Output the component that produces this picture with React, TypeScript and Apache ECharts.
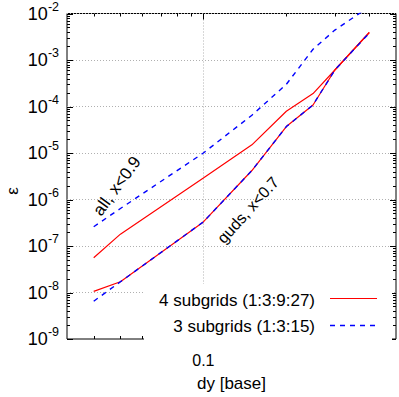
import React, { useEffect, useRef } from "react";
import * as echarts from "echarts";

// ---- data ----
const dy = [0.04, 0.05, 0.1, 0.15, 0.2, 0.25, 0.3, 0.4];
const sub4All = [5.6e-8, 1.8e-7, 2.9e-6, 1.5e-5, 7.9e-5, 1.9e-4, 6.1e-4, 3.9e-3];
const sub4Guds = [1.06e-8, 1.7e-8, 3.3e-7, 4.2e-6, 3.7e-5, 1.08e-4, 6.1e-4, 3.9e-3];
const sub3All = [2.6e-7, 6.4e-7, 1.0e-5, 6.5e-5, 3.0e-4, 1.7e-3, 4.4e-3, 1.4e-2];
const sub3Guds = [6.5e-9, 1.7e-8, 3.3e-7, 4.2e-6, 3.7e-5, 1.08e-4, 6.1e-4, 3.8e-3];

const seriesNames = ["4 subgrids (1:3:9:27)", "3 subgrids (1:3:15)"];
const annotations = ["all, x<0.9", "guds, x<0.7"];

const xTickLabels = [0.1];
const xMinorTicks = [0.04, 0.05, 0.06, 0.07, 0.08, 0.09, 0.2, 0.3, 0.4];
const yDecades = [-9, -8, -7, -6, -5, -4, -3, -2];
const yMinorMultipliers = [2, 3, 4, 5, 6, 7, 8, 9];

const X_MIN = 0.032;
const X_MAX = 0.5;
const Y_MIN = 1e-9;
const Y_MAX = 1e-2;

const FONT = '"Liberation Sans", Arial, Helvetica, sans-serif';
const RED = "#ff0000";
const BLUE = "#0000ff";

export default function App() {
  const ref = useRef<HTMLDivElement>(null);

  useEffect(() => {
    if (!ref.current) return;
    const chart = echarts.init(ref.current, undefined, { renderer: "svg" });

    const pairs = (ys: number[]) => dy.map((x, i) => [x, ys[i]]);

    const xTickData: number[][] = [];
    xTickLabels.forEach((v) => xTickData.push([v, Y_MIN, 6]));
    xMinorTicks.forEach((v) => xTickData.push([v, Y_MIN, 3]));

    const yTickData: number[][] = [];
    yDecades.forEach((d) => {
      yTickData.push([X_MIN, Math.pow(10, d), 6]);
      if (d < -2) {
        yMinorMultipliers.forEach((m) => yTickData.push([X_MIN, m * Math.pow(10, d), 3]));
      }
    });

    const tickStyle = { stroke: "#000", lineWidth: 1 };

    const textStyle = (text: string, size: number, align: string) => ({
      text,
      font: size + "px " + FONT,
      fill: "#000",
      align,
      verticalAlign: "middle",
      textAlign: align,
      textVerticalAlign: "middle",
    });

    const option: any = {
      animation: false,
      grid: {
        left: 67,
        top: 13,
        right: 2.5,
        bottom: 53.5,
        show: true,
        borderColor: "#000",
        borderWidth: 1,
        backgroundColor: "transparent",
      },
      xAxis: {
        type: "log",
        logBase: 10,
        min: X_MIN,
        max: X_MAX,
        axisLine: { show: false },
        axisTick: { show: false },
        axisLabel: {
          margin: 13,
          fontFamily: FONT,
          fontSize: 16,
          color: "#000",
          formatter: (v: number) =>
            xTickLabels.some((t) => Math.abs(t - v) < 1e-6) ? String(v) : "",
        },
        splitLine: {
          show: true,
          showMinLine: false,
          showMaxLine: false,
          lineStyle: { color: "#b0b0b0", width: 1, type: [1, 2] },
        },
        name: "dy [base]",
        nameLocation: "middle",
        nameGap: 36,
        nameTextStyle: { fontFamily: FONT, fontSize: 17, color: "#000" },
      },
      yAxis: {
        type: "log",
        logBase: 10,
        min: Y_MIN,
        max: Y_MAX,
        interval: 1,
        axisLine: { show: false },
        axisTick: { show: false },
        axisLabel: {
          margin: 8,
          color: "#000",
          formatter: (v: number) => {
            const e = Math.round(Math.log10(v));
            return "{b|10}{s|" + e + "}";
          },
          rich: {
            b: { fontFamily: FONT, fontSize: 18, color: "#000" },
            s: { fontFamily: FONT, fontSize: 12.5, color: "#000", padding: [0, 0, 14, 0] },
          },
        },
        splitLine: {
          show: true,
          showMinLine: false,
          showMaxLine: false,
          lineStyle: { color: "#b0b0b0", width: 1, type: [1, 2] },
        },
      },
      series: [
        {
          name: seriesNames[0],
          type: "line",
          data: pairs(sub4All),
          symbol: "none",
          lineStyle: { color: RED, width: 1.2 },
          z: 2,
        },
        {
          name: seriesNames[0],
          type: "line",
          data: pairs(sub4Guds),
          symbol: "none",
          lineStyle: { color: RED, width: 1.2 },
          z: 2,
        },
        {
          name: seriesNames[1],
          type: "line",
          data: pairs(sub3All),
          symbol: "none",
          lineStyle: { color: BLUE, width: 1.4, type: [5, 5] },
          z: 3,
        },
        {
          name: seriesNames[1],
          type: "line",
          data: pairs(sub3Guds),
          symbol: "none",
          lineStyle: { color: BLUE, width: 1.4, type: [5, 5] },
          z: 3,
        },
        {
          type: "custom",
          coordinateSystem: "cartesian2d",
          silent: true,
          clip: false,
          z: 10,
          encode: { x: 0, y: 1 },
          data: xTickData,
          renderItem: (params: any, api: any) => {
            const x = api.value(0);
            const len = api.value(2);
            const b = api.coord([x, Y_MIN]);
            const t = api.coord([x, Y_MAX]);
            const px = Math.round(b[0]) + 0.5;
            return {
              type: "group",
              children: [
                { type: "line", shape: { x1: px, y1: b[1], x2: px, y2: b[1] - len }, style: tickStyle },
                { type: "line", shape: { x1: px, y1: t[1], x2: px, y2: t[1] + len }, style: tickStyle },
              ],
            };
          },
        },
        {
          type: "custom",
          coordinateSystem: "cartesian2d",
          silent: true,
          clip: false,
          z: 10,
          encode: { x: 0, y: 1 },
          data: yTickData,
          renderItem: (params: any, api: any) => {
            const y = api.value(1);
            const len = api.value(2);
            const l = api.coord([X_MIN, y]);
            const r = api.coord([X_MAX, y]);
            const py = Math.round(l[1]) + 0.5;
            return {
              type: "group",
              children: [
                { type: "line", shape: { x1: l[0], y1: py, x2: l[0] + len, y2: py }, style: tickStyle },
                { type: "line", shape: { x1: r[0], y1: py, x2: r[0] - len, y2: py }, style: tickStyle },
              ],
            };
          },
        },
      ],
      graphic: [
        {
          type: "text",
          x: 12,
          y: 191,
          rotation: Math.PI / 2,
          z: 20,
          style: textStyle("ε", 17, "center"),
        },
        {
          type: "text",
          x: 117,
          y: 186,
          rotation: (54 * Math.PI) / 180,
          z: 20,
          style: textStyle(annotations[0], 17, "center"),
        },
        {
          type: "text",
          x: 248,
          y: 210,
          rotation: (48 * Math.PI) / 180,
          z: 20,
          style: textStyle(annotations[1], 16, "center"),
        },
        {
          type: "rect",
          z: 15,
          shape: { x: 144, y: 284, width: 248, height: 58 },
          style: { fill: "#fff" },
        },
        {
          type: "text",
          x: 315,
          y: 300,
          z: 20,
          style: textStyle(seriesNames[0], 17, "right"),
        },
        {
          type: "line",
          z: 20,
          shape: { x1: 330, y1: 298.5, x2: 377, y2: 298.5 },
          style: { stroke: RED, lineWidth: 1.2 },
        },
        {
          type: "text",
          x: 315,
          y: 326,
          z: 20,
          style: textStyle(seriesNames[1], 17, "right"),
        },
        {
          type: "line",
          z: 20,
          shape: { x1: 330, y1: 325.5, x2: 377, y2: 325.5 },
          style: { stroke: BLUE, lineWidth: 1.4, lineDash: [5, 5] },
        },
      ],
    };

    chart.setOption(option);
    return () => chart.dispose();
  }, []);

  return (
    <div
      ref={ref}
      style={{ position: "fixed", left: 0, top: 0, width: 399, height: 397, background: "#fff" }}
    />
  );
}
